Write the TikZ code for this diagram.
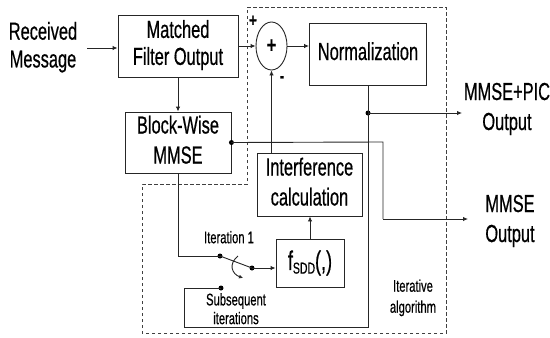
\documentclass[tikz,border=0pt]{standalone}
\usepackage{fontspec}
\setmainfont{Liberation Sans}[FakeBold=0.7]
\usepackage{graphicx}
\usetikzlibrary{arrows.meta,shapes.geometric}
\newcommand{\vsc}[3]{\scalebox{1}[1.5]{\fontsize{#1}{#2}\selectfont\begin{tabular}{@{}c@{}}#3\end{tabular}}}
\begin{document}
\begin{tikzpicture}[x=1pt,y=-1pt,
  ln/.style={line width=0.9pt,draw=black!85},
  arr/.style={ln,-{Latex[length=5pt,width=4.5pt]}},
  box/.style={ln,rectangle,inner sep=0pt},
  txt/.style={inner sep=0pt,align=center},
  dotn/.style={circle,fill=black,inner sep=0pt,minimum size=5pt},
  dsh/.style={line width=0.8pt,draw=black!75,dash pattern=on 3.5pt off 2.5pt}]
\useasboundingbox (0,0) rectangle (550,338);
% dashed region
\draw[dsh] (247,7) -- (446,7) -- (446,333) -- (142,333) -- (142,184) -- (247,184) -- cycle;
% nodes
\node[txt] (rm) at (43,48) {\vsc{16.4}{18.5}{Received\\Message}};
\node[box,minimum width=120pt,minimum height=62pt] (mf) at (178,46) {\vsc{16.4}{18}{Matched\\Filter Output}};
\node[box,minimum width=106pt,minimum height=61pt] (bw) at (178,142.5) {\vsc{16.4}{20}{Block-Wise\\MMSE}};
\node[ln,ellipse,minimum width=31pt,minimum height=48pt,inner sep=0pt] (sum) at (271.5,46) {\scalebox{1}[1.4]{\fontsize{16}{16}\selectfont\bfseries +}};
\node[box,minimum width=117pt,minimum height=62pt] (norm) at (368,54) {\raisebox{-3pt}{\vsc{16.4}{20}{Normalization}}};
\node[box,minimum width=105pt,minimum height=63pt] (interf) at (309.5,184.5) {\vsc{16.4}{20}{Interference\\calculation}};
\node[box,minimum width=68pt,minimum height=48pt] (fsdd) at (310,263) {\scalebox{1}[1.5]{\fontsize{18}{18}\selectfont f\raisebox{-0.25ex}{\fontsize{10.5}{10.5}\selectfont SDD}(,)}};
\node[txt] (pic) at (507,109) {\vsc{16.4}{20}{MMSE+PIC\\Output}};
\node[txt] (mmse) at (510,221) {\vsc{16.4}{20}{MMSE\\Output}};
\node[txt] (plus) at (253,21) {\scalebox{1}[1.4]{\fontsize{13}{13}\selectfont\bfseries +}};
\node[txt] (minus) at (282,79) {\scalebox{1}[1.4]{\fontsize{13}{13}\selectfont\bfseries -}};
\node[txt] (it1) at (229,239) {\vsc{11.2}{14}{Iteration 1}};
\node[txt] (subs) at (236,311) {\vsc{11.2}{12.5}{Subsequent\\iterations}};
\node[txt] (iter) at (413,298) {\vsc{11.2}{14}{Iterative\\algorithm}};
% dots
\node[dotn] (d1) at (368,113) {};
\node[dotn] (d2) at (bw.east) {};
\node[dotn] (d3) at (221,288) {};
\node[dotn] (s1) at (220,256) {};
\node[dotn] (s2) at (252,268) {};
% coordinates
\coordinate (c1) at (368,327);
\coordinate (c2) at (184,327);
\coordinate (c3) at (184,288);
\coordinate (c4) at (383,142);
\coordinate (c5) at (383,219);
\coordinate (e1) at (462,113);
\coordinate (e2) at (468,219);
\coordinate (c6) at (178,256);
\coordinate (t1) at (238,256);
\coordinate (t2) at (243,278);
% connectors
\draw[arr] ([xshift=10pt]rm.east) -- (rm.east -| mf.west);
\draw[arr] (mf.south) -- (bw.north);
\draw[arr] (mf.east) -- (sum.west);
\draw[arr] (sum.east) -- (sum.east -| norm.west);
\draw[arr] (interf.north -| sum.south) -- (sum.south);
\draw[arr] (fsdd.north) -- (fsdd.north |- interf.south);
\draw[ln] (norm.south) -- (d1.center);
\draw[arr] (d1.center) -- (e1);
\draw[ln] (d1.center) -- (c1) -- (c2) -- (c3) -- (d3.center);
\draw[ln] (d2.center) -- (c4) -- (c5);
\draw[arr] (c5) -- (e2);
\draw[ln] (bw.south) -- (c6) -- (s1.center);
\draw[ln] (s1.center) -- (s2.center);
\draw[arr] (s2.center) -- (s2.center -| fsdd.west);
\draw[ln,-{Latex[length=4pt,width=4pt]}] (t1) .. controls (228,264) and (232,274) .. (t2);
\end{tikzpicture}
\end{document}
